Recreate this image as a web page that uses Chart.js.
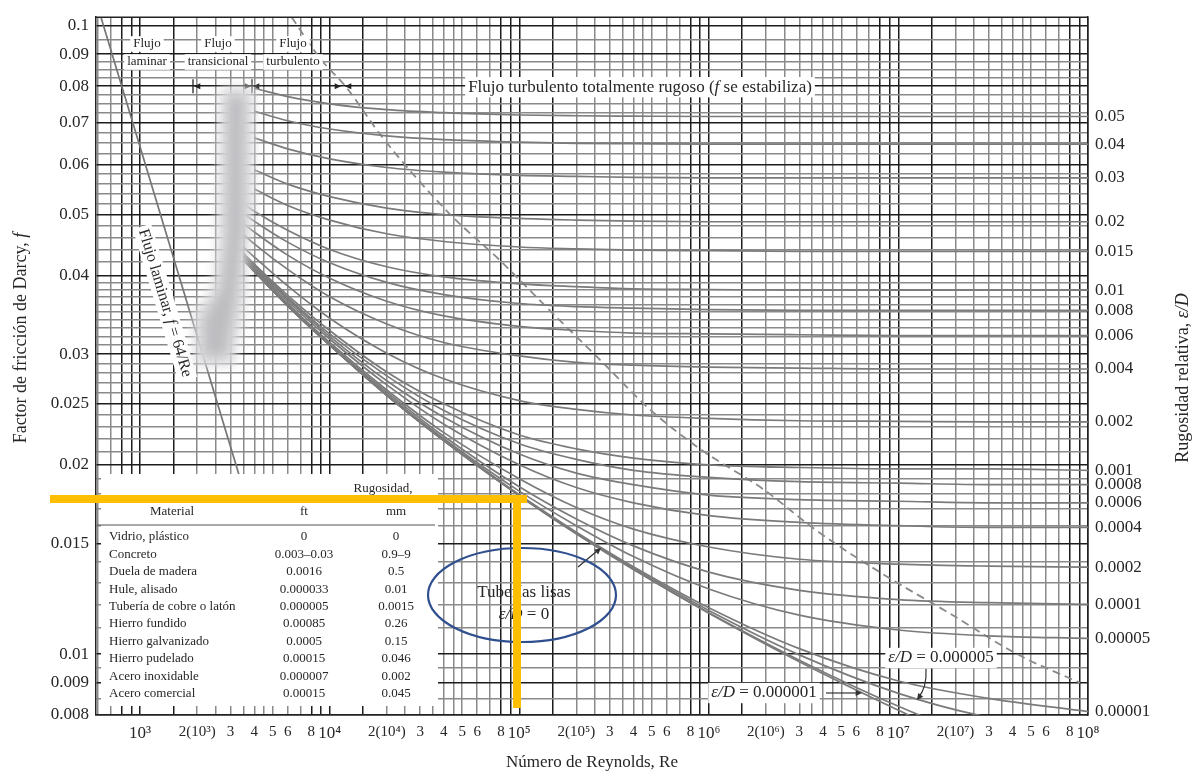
<!DOCTYPE html>
<html>
<head>
<meta charset="utf-8">
<title>Diagrama de Moody</title>
<script src="https://cdn.jsdelivr.net/npm/chart.js@4.4.1/dist/chart.umd.min.js"></script>
<style>
  html, body { margin: 0; padding: 0; background: #fff; }
  #wrap { width: 1202px; height: 776px; position: relative; }
</style>
</head>
<body>
<div id="wrap"><canvas id="moody" width="1202" height="776"></canvas></div>
<script>
// ----- DATA -----
// Reynolds numbers where the roughness curves were read off the chart
const reynolds = [3500, 4000, 6000, 1e4, 2e4, 4e4, 1e5, 2e5, 4e5, 1e6, 3e6, 1e7, 3e7, 1e8];

// friction factor f for each relative roughness (null = curve not drawn there)
const rough0_05     = [null, 0.0794, 0.0770, 0.0750, 0.0734, 0.0726, 0.0720, 0.0718, 0.0717, 0.0716, 0.0716, 0.0716, 0.0716, 0.0716];
const rough0_04     = [null, 0.0730, 0.0705, 0.0684, 0.0667, 0.0658, 0.0652, 0.0649, 0.0648, 0.0647, 0.0647, 0.0647, 0.0647, 0.0647];
const rough0_03     = [null, 0.0662, 0.0636, 0.0613, 0.0594, 0.0584, 0.0577, 0.0575, 0.0573, 0.0572, 0.0572, 0.0572, 0.0572, 0.0572];
const rough0_02     = [null, 0.0589, 0.0559, 0.0534, 0.0512, 0.0500, 0.0493, 0.0490, 0.0488, 0.0487, 0.0487, 0.0487, 0.0487, 0.0487];
const rough0_015    = [null, 0.0549, 0.0517, 0.0490, 0.0466, 0.0453, 0.0444, 0.0441, 0.0439, 0.0438, 0.0437, 0.0437, 0.0437, 0.0437];
const rough0_01     = [0.0520, 0.0506, 0.0472, 0.0440, 0.0413, 0.0398, 0.0388, 0.0384, 0.0381, 0.0380, 0.0379, 0.0379, 0.0379, 0.0379];
const rough0_008    = [0.0502, 0.0488, 0.0452, 0.0419, 0.0390, 0.0373, 0.0361, 0.0357, 0.0355, 0.0353, 0.0352, 0.0352, 0.0352, 0.0352];
const rough0_006    = [0.0484, 0.0469, 0.0431, 0.0396, 0.0364, 0.0345, 0.0332, 0.0327, 0.0324, 0.0323, 0.0322, 0.0321, 0.0321, 0.0321];
const rough0_004    = [0.0465, 0.0449, 0.0409, 0.0370, 0.0335, 0.0313, 0.0298, 0.0291, 0.0288, 0.0286, 0.0285, 0.0284, 0.0284, 0.0284];
const rough0_002    = [0.0444, 0.0428, 0.0385, 0.0342, 0.0301, 0.0274, 0.0253, 0.0245, 0.0240, 0.0237, 0.0235, 0.02345, 0.0234, 0.0234];
const rough0_001    = [0.0434, 0.0417, 0.0372, 0.0327, 0.0281, 0.0250, 0.0223, 0.0212, 0.0205, 0.0200, 0.0198, 0.0197, 0.0197, 0.0196];
const rough0_0008   = [0.0432, 0.0415, 0.0369, 0.0323, 0.0277, 0.0244, 0.0216, 0.0204, 0.0196, 0.0191, 0.0188, 0.0187, 0.0186, 0.0186];
const rough0_0006   = [0.0430, 0.0412, 0.0367, 0.0320, 0.0272, 0.0238, 0.0208, 0.0194, 0.0186, 0.0179, 0.0176, 0.0175, 0.0174, 0.0174];
const rough0_0004   = [0.0427, 0.0410, 0.0364, 0.0317, 0.0268, 0.0232, 0.0200, 0.0184, 0.0174, 0.0166, 0.0162, 0.0160, 0.0159, 0.0159];
const rough0_0002   = [0.0425, 0.0408, 0.0361, 0.0313, 0.0263, 0.0225, 0.0190, 0.0171, 0.0158, 0.0148, 0.01415, 0.0139, 0.0138, 0.01375];
const rough0_0001   = [0.0424, 0.0407, 0.0360, 0.0311, 0.0261, 0.0222, 0.01845, 0.0164, 0.01486, 0.0135, 0.01263, 0.01221, 0.01207, 0.0120];
const rough0_00005  = [0.0424, 0.0406, 0.0359, 0.0311, 0.0259, 0.0220, 0.01816, 0.0160, 0.01429, 0.01269, 0.01153, 0.01092, 0.01069, 0.01059];
const rough0_00001  = [0.0423, 0.0406, 0.0358, 0.0310, 0.0258, 0.0219, 0.01792, 0.01563, 0.01377, 0.01185, 0.0102, 0.00906, 0.0085, 0.0081];
const rough0_000005 = [0.0423, 0.0406, 0.0358, 0.0310, 0.0258, 0.02186, 0.01789, 0.01558, 0.0137, 0.01173, 0.00997, 0.00866, 0.00793, 0.00752];
const rough0_000001 = [0.0423, 0.0406, 0.0358, 0.0310, 0.0258, 0.02185, 0.01787, 0.01554, 0.01364, 0.01163, 0.00978, 0.00826, 0.00725, 0.0065];
const roughSmooth   = [0.0423, 0.0406, 0.0358, 0.0310, 0.0258, 0.02184, 0.01786, 0.01553, 0.01363, 0.01161, 0.00972, 0.00814, 0.00701, 0.00603];

// labels written at the right end of the curves (relative roughness e/D)
const roughnessLabels = ['0.05', '0.04', '0.03', '0.02', '0.015', '0.01', '0.008', '0.006', '0.004', '0.002',
  '0.001', '0.0008', '0.0006', '0.0004', '0.0002', '0.0001', '0.00005', '0.00001'];

// laminar line f = 64/Re, two ends
const laminarRe = [620, 3500];
const laminarF = [0.1032, 0.0183];

// dashed boundary of the fully rough zone
const boundaryRe = [6300, 8860, 12300, 19000, 43000, 78900, 144800, 265900, 488400, 896600, 1.93e6, 3.72e6, 8.28e6, 1.87e7, 4.22e7, 9.07e7];
const boundaryF = [0.103, 0.0887, 0.0795, 0.0663, 0.0501, 0.0423, 0.0352, 0.0294, 0.0245, 0.0212, 0.0183, 0.0157, 0.0134, 0.0116, 0.0100, 0.0090];

// axis ticks
const xLabelTicks = [1e3, 2e3, 3e3, 4e3, 5e3, 6e3, 8e3, 1e4, 2e4, 3e4, 4e4, 5e4, 6e4, 8e4, 1e5, 2e5, 3e5, 4e5, 5e5, 6e5, 8e5,
  1e6, 2e6, 3e6, 4e6, 5e6, 6e6, 8e6, 1e7, 2e7, 3e7, 4e7, 5e7, 6e7, 8e7, 1e8];
const xLabelText = ['10³', '2(10³)', '3', '4', '5', '6', '8', '10⁴', '2(10⁴)', '3', '4', '5', '6', '8', '10⁵', '2(10⁵)', '3', '4', '5', '6', '8',
  '10⁶', '2(10⁶)', '3', '4', '5', '6', '8', '10⁷', '2(10⁷)', '3', '4', '5', '6', '8', '10⁸'];
const xGridSteps = [1, 1.5, 2, 2.5, 3, 3.5, 4, 4.5, 5, 6, 7, 8, 9];
const xDarkSteps = [1, 1.5, 8, 9];
const yLabelTicks = [0.008, 0.009, 0.01, 0.015, 0.02, 0.025, 0.03, 0.04, 0.05, 0.06, 0.07, 0.08, 0.09, 0.1];
const yLabelText = ['0.008', '0.009', '0.01', '0.015', '0.02', '0.025', '0.03', '0.04', '0.05', '0.06', '0.07', '0.08', '0.09', '0.1'];
const yGridTicks = [0.008, 0.0085, 0.009, 0.0095, 0.01, 0.011, 0.012, 0.013, 0.014, 0.015, 0.016, 0.017, 0.018, 0.019,
  0.02, 0.021, 0.022, 0.023, 0.024, 0.025, 0.026, 0.027, 0.028, 0.029, 0.03, 0.031, 0.032, 0.033, 0.034, 0.035, 0.036,
  0.037, 0.038, 0.039, 0.04, 0.042, 0.044, 0.046, 0.048, 0.05, 0.052, 0.054, 0.056, 0.058, 0.06, 0.0625, 0.065, 0.0675,
  0.07, 0.0725, 0.075, 0.0775, 0.08, 0.0825, 0.085, 0.0875, 0.09, 0.095, 0.1];

// roughness table
const tableMaterial = ['Vidrio, plástico', 'Concreto', 'Duela de madera', 'Hule, alisado', 'Tubería de cobre o latón',
  'Hierro fundido', 'Hierro galvanizado', 'Hierro pudelado', 'Acero inoxidable', 'Acero comercial'];
const tableFt = ['0', '0.003–0.03', '0.0016', '0.000033', '0.000005', '0.00085', '0.0005', '0.00015', '0.000007', '0.00015'];
const tableMm = ['0', '0.9–9', '0.5', '0.01', '0.0015', '0.26', '0.15', '0.046', '0.002', '0.045'];

// ----- HELPERS -----
const FONT = '"Liberation Serif", "Times New Roman", "DejaVu Serif", serif';
const TEXT = '#262626';
const same = (a, b) => Math.abs(a / b - 1) < 1e-6;
const mantissa = v => v / Math.pow(10, Math.floor(Math.log10(v) + 1e-9));

function richText(ctx, parts, x, y, size, align, bg) {
  let total = 0;
  const widths = parts.map(([t, it]) => {
    ctx.font = (it ? 'italic ' : '') + size + 'px ' + FONT;
    const w = ctx.measureText(t).width;
    total += w;
    return w;
  });
  let sx = align === 'center' ? x - total / 2 : (align === 'right' ? x - total : x);
  if (bg) {
    ctx.fillStyle = '#fff';
    ctx.fillRect(sx - 3, y - size * 0.6, total + 6, size * 1.2);
  }
  ctx.fillStyle = TEXT;
  ctx.textAlign = 'left';
  ctx.textBaseline = 'middle';
  parts.forEach(([t, it], i) => {
    ctx.font = (it ? 'italic ' : '') + size + 'px ' + FONT;
    ctx.fillText(t, sx, y);
    sx += widths[i];
  });
}

function arrowHead(ctx, x, y, ang, size) {
  ctx.beginPath();
  ctx.moveTo(x, y);
  ctx.lineTo(x - size * Math.cos(ang - 0.45), y - size * Math.sin(ang - 0.45));
  ctx.lineTo(x - size * Math.cos(ang + 0.45), y - size * Math.sin(ang + 0.45));
  ctx.closePath();
  ctx.fill();
}

// ----- DATASETS -----
const curves = [rough0_05, rough0_04, rough0_03, rough0_02, rough0_015, rough0_01, rough0_008, rough0_006, rough0_004,
  rough0_002, rough0_001, rough0_0008, rough0_0006, rough0_0004, rough0_0002, rough0_0001, rough0_00005, rough0_00001,
  rough0_000005, rough0_000001, roughSmooth];

const datasets = curves.map(vals => ({
  data: reynolds.map((re, i) => ({ x: re, y: vals[i] })).filter(p => p.y !== null),
  borderColor: '#7b7b7b',
  borderWidth: 1.7,
  pointRadius: 0,
  cubicInterpolationMode: 'monotone'
}));
datasets.push({
  data: laminarRe.map((re, i) => ({ x: re, y: laminarF[i] })),
  borderColor: '#767676', borderWidth: 1.7, pointRadius: 0
});
datasets.push({
  data: boundaryRe.map((re, i) => ({ x: re, y: boundaryF[i] })),
  borderColor: '#8a8a8a', borderWidth: 1.8, borderDash: [8, 5], pointRadius: 0,
  cubicInterpolationMode: 'monotone'
});

// right-hand labels sit at the end value of each curve
const curveEnds = curves.slice(0, roughnessLabels.length).map(c => c[c.length - 1]);

const xGrid = [];
[1e2, 1e3, 1e4, 1e5, 1e6, 1e7].forEach(d => xGridSteps.forEach(k => { if (k * d >= 585) xGrid.push(k * d); }));
xGrid.push(1e8);

// ----- DECORATION PLUGIN -----
const decor = {
  id: 'decor',
  afterDatasetsDraw(chart) {
    const { ctx, chartArea: a, scales } = chart;
    const sx = scales.x, sy = scales.y;
    ctx.save();

    // top frame
    ctx.strokeStyle = '#222';
    ctx.lineWidth = 1.5;
    ctx.beginPath();
    ctx.moveTo(a.left, a.top);
    ctx.lineTo(a.right, a.top);
    ctx.stroke();

    // regime markers on the f = 0.08 line
    const y08 = sy.getPixelForValue(0.08);
    ctx.fillStyle = '#222';
    ctx.lineWidth = 1.3;
    [193, 252].forEach(px => {
      ctx.beginPath(); ctx.moveTo(px, y08 - 7); ctx.lineTo(px, y08 + 7); ctx.stroke();
    });
    arrowHead(ctx, 194, y08, Math.PI, 7);
    arrowHead(ctx, 251, y08, 0, 7);
    arrowHead(ctx, 253, y08, Math.PI, 7);
    arrowHead(ctx, 341, y08, 0, 7);
    arrowHead(ctx, 345, y08, Math.PI, 7);

    // regime names
    [['Flujo', 'laminar', 147], ['Flujo', 'transicional', 218], ['Flujo', 'turbulento', 293]].forEach(([t1, t2, px]) => {
      richText(ctx, [[t1, false]], px, 44, 13, 'center', true);
      richText(ctx, [[t2, false]], px, 62, 13, 'center', true);
    });
    richText(ctx, [['Flujo turbulento totalmente rugoso (', false], ['f', true], [' se estabiliza)', false]],
      640, y08 + 1, 17, 'center', true);

    // laminar label along the line
    const p1x = sx.getPixelForValue(laminarRe[0]), p1y = sy.getPixelForValue(laminarF[0]);
    const p2x = sx.getPixelForValue(laminarRe[1]), p2y = sy.getPixelForValue(laminarF[1]);
    ctx.save();
    ctx.translate(165, 303);
    ctx.rotate(Math.atan2(p2y - p1y, p2x - p1x));
    richText(ctx, [['Flujo laminar, ', false], ['f', true], [' = 64/Re', false]], 0, 0, 16, 'center', true);
    ctx.restore();

    // smudge over the transition zone
    ctx.save();
    ctx.filter = 'blur(6px)';
    ctx.fillStyle = 'rgba(222,222,225,1)';
    ctx.beginPath();
    ctx.moveTo(220, 88); ctx.lineTo(254, 86); ctx.lineTo(254, 210); ctx.lineTo(247, 245); ctx.lineTo(245, 300);
    ctx.lineTo(234, 366); ctx.lineTo(194, 366); ctx.lineTo(194, 312); ctx.lineTo(212, 290); ctx.lineTo(217, 250);
    ctx.closePath();
    ctx.fill();
    ctx.fillStyle = 'rgba(185,185,189,0.9)';
    ctx.beginPath();
    ctx.moveTo(228, 96); ctx.lineTo(244, 96); ctx.lineTo(243, 230); ctx.lineTo(237, 290); ctx.lineTo(226, 356);
    ctx.lineTo(204, 356); ctx.lineTo(204, 318); ctx.lineTo(221, 290); ctx.lineTo(227, 240);
    ctx.closePath();
    ctx.fill();
    ctx.restore();

    // roughness table
    ctx.fillStyle = '#fff';
    ctx.fillRect(101, 474, 337, 232);
    richText(ctx, [['Rugosidad,', false]], 383, 489, 13, 'center', false);
    richText(ctx, [['Material', false]], 172, 512, 13, 'center', false);
    richText(ctx, [['ft', false]], 304, 512, 13, 'center', false);
    richText(ctx, [['mm', false]], 396, 512, 13, 'center', false);
    ctx.strokeStyle = '#555';
    ctx.lineWidth = 1;
    ctx.beginPath(); ctx.moveTo(97, 525); ctx.lineTo(435, 525); ctx.stroke();
    tableMaterial.forEach((m, i) => {
      const ry = 537 + i * 17.4;
      richText(ctx, [[m, false]], 109, ry, 13, 'left', false);
      richText(ctx, [[tableFt[i], false]], 304, ry, 13, 'center', false);
      richText(ctx, [[tableMm[i], false]], 396, ry, 13, 'center', false);
    });

    // small-roughness callouts
    ctx.strokeStyle = '#333';
    ctx.fillStyle = '#333';
    ctx.lineWidth = 1.2;
    richText(ctx, [['ε/D', true], [' = 0.000005', false]], 941, 658, 17, 'center', true);
    ctx.strokeStyle = '#333';
    ctx.beginPath(); ctx.moveTo(926, 669); ctx.quadraticCurveTo(927, 688, 918, 698); ctx.stroke();
    ctx.fillStyle = '#333';
    arrowHead(ctx, 917, 700, 2.2, 7);
    richText(ctx, [['ε/D', true], [' = 0.000001', false]], 764, 693, 17, 'center', true);
    ctx.beginPath(); ctx.moveTo(826, 693); ctx.lineTo(858, 693); ctx.stroke();
    ctx.fillStyle = '#333';
    arrowHead(ctx, 862, 693, 0, 7);

    // smooth pipes label
    richText(ctx, [['Tuberías lisas', false]], 524, 593, 17, 'center', false);
    richText(ctx, [['ε/D', true], [' = 0', false]], 524, 615, 17, 'center', false);
    ctx.strokeStyle = '#333';
    ctx.beginPath(); ctx.moveTo(578, 567); ctx.lineTo(597, 551); ctx.stroke();
    ctx.fillStyle = '#333';
    arrowHead(ctx, 601, 548, -0.7, 7);

    // blue ellipse
    ctx.strokeStyle = '#2f4f8f';
    ctx.lineWidth = 2.2;
    ctx.beginPath();
    ctx.ellipse(522, 595, 94, 47, 0, 0, Math.PI * 2);
    ctx.stroke();

    // orange marks
    ctx.fillStyle = '#ffbf00';
    ctx.fillRect(50, 495, 477, 8);
    ctx.fillRect(513, 495, 8, 213);

    // side titles
    ctx.save();
    ctx.translate(21, 338);
    ctx.rotate(-Math.PI / 2);
    richText(ctx, [['Factor de fricción de Darcy, ', false], ['f', true]], 0, 0, 18, 'center', false);
    ctx.restore();
    ctx.save();
    ctx.translate(1183, 378);
    ctx.rotate(-Math.PI / 2);
    richText(ctx, [['Rugosidad relativa, ', false], ['ε/D', true]], 0, 0, 18, 'center', false);
    ctx.restore();

    ctx.restore();
  }
};

// ----- CHART -----
Chart.defaults.font.family = FONT;
Chart.defaults.color = TEXT;

new Chart(document.getElementById('moody').getContext('2d'), {
  type: 'line',
  data: { datasets },
  options: {
    responsive: false,
    animation: false,
    layout: { padding: { top: 12, left: 0, right: 0, bottom: 0 } },
    plugins: { legend: { display: false }, tooltip: { enabled: false } },
    scales: {
      x: {
        type: 'logarithmic',
        min: 585,
        max: 1e8,
        afterBuildTicks: s => { s.ticks = xGrid.map(v => ({ value: v })); },
        afterFit: s => { s.height = 61; },
        ticks: {
          autoSkip: false,
          maxRotation: 0,
          padding: 8,
          color: TEXT,
          font: c => {
            const v = c.tick ? c.tick.value : 1;
            const pow = Math.abs(Math.log10(v) - Math.round(Math.log10(v))) < 1e-9;
            return { family: FONT, size: pow ? 17 : 15 };
          },
          callback: v => {
            const i = xLabelTicks.findIndex(t => same(t, v));
            return i < 0 ? '' : xLabelText[i];
          }
        },
        grid: {
          drawTicks: false,
          color: c => (c.tick && xDarkSteps.some(k => Math.abs(mantissa(c.tick.value) - k) < 1e-6)) ? '#1c1c1c' : '#8a8a8a',
          lineWidth: 1.5
        },
        border: { display: true, color: '#222', width: 1.5 },
        title: {
          display: true,
          text: 'Número de Reynolds, Re',
          color: TEXT,
          font: { family: FONT, size: 17 },
          padding: { top: 0, bottom: 3 }
        }
      },
      y: {
        type: 'logarithmic',
        position: 'left',
        min: 0.008,
        max: 0.103,
        afterBuildTicks: s => { s.ticks = yGridTicks.map(v => ({ value: v })); },
        afterFit: s => { s.width = 96; },
        ticks: {
          autoSkip: false,
          padding: 7,
          color: TEXT,
          font: { family: FONT, size: 17 },
          callback: v => {
            const i = yLabelTicks.findIndex(t => same(t, v));
            return i < 0 ? '' : yLabelText[i];
          }
        },
        grid: {
          drawTicks: false,
          color: c => (c.tick && yLabelTicks.some(t => same(t, c.tick.value))) ? '#1c1c1c' : '#8a8a8a',
          lineWidth: 1.5
        },
        border: { display: true, color: '#222', width: 1.5 }
      },
      y2: {
        type: 'logarithmic',
        position: 'right',
        min: 0.008,
        max: 0.103,
        afterBuildTicks: s => { s.ticks = curveEnds.map(v => ({ value: v })).sort((p, q) => p.value - q.value); },
        afterFit: s => { s.width = 114; },
        ticks: {
          autoSkip: false,
          padding: 7,
          color: TEXT,
          font: { family: FONT, size: 17 },
          callback: v => {
            const i = curveEnds.findIndex(t => same(t, v));
            return i < 0 ? '' : roughnessLabels[i];
          }
        },
        grid: { display: false, drawTicks: false },
        border: { display: true, color: '#222', width: 1.5 }
      }
    }
  },
  plugins: [decor]
});
</script>
</body>
</html>
